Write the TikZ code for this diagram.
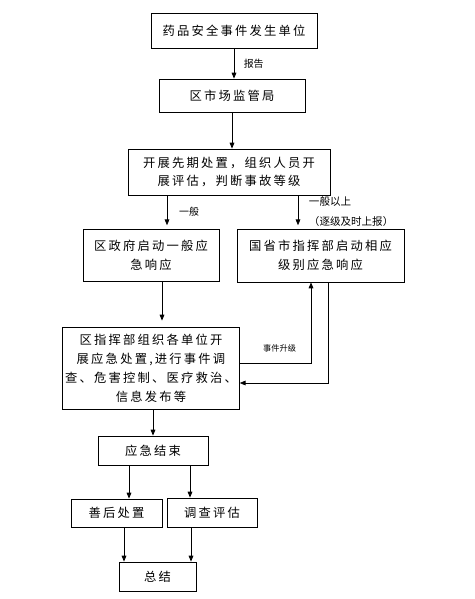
\documentclass[tikz,border=0pt]{standalone}
\usepackage{fontspec}
\usetikzlibrary{arrows.meta,positioning,calc}
\setmainfont{Noto Sans CJK SC}
\newfontfamily\boxfont[LetterSpace=18]{Noto Sans CJK SC}

\begin{document}
\begin{tikzpicture}[
    x=0.03cm, y=-0.03cm,
    fbox/.style={rectangle, draw, line width=0.7pt, align=center,
                 font=\boxfont\fontsize{10.5pt}{16.2pt}\selectfont, inner sep=2pt},
    arr/.style={-{Stealth[length=5pt, width=4pt, inset=0pt]}, line width=0.7pt},
    lbl/.style={font=\fontsize{8.5pt}{10pt}\selectfont, inner sep=0pt}
  ]

  \useasboundingbox (0,0) rectangle (474,599);

  % ---- Boxes ----
  \node[fbox, minimum width=4.98cm, minimum height=1.05cm]
    (B1) at (234,30.5) {药品安全事件发生单位};
  \node[fbox, minimum width=4.38cm, minimum height=0.99cm]
    (B2) at (232,95.5) {区市场监管局};
  \node[fbox, minimum width=6.06cm, minimum height=1.38cm]
    (B3) at (229,172) {开展先期处置，组织人员开\\展评估，判断事故等级};
  \node[fbox, minimum width=4.08cm, minimum height=1.56cm]
    (B4) at (151,255) {区政府启动一般应\\急响应};
  \node[fbox, minimum width=5.01cm, minimum height=1.59cm]
    (B5) at (320.5,255.5) {国省市指挥部启动相应\\级别应急响应};
  \node[fbox, minimum width=5.16cm, minimum height=2.46cm]
    (B6) at (151,368) {区指挥部组织各单位开\\展应急处置,进行事件调\\查、危害控制、医疗救治、\\信息发布等};
  \node[fbox, minimum width=3.30cm, minimum height=0.87cm]
    (B7) at (153,450.5) {应急结束};
  \node[fbox, minimum width=2.73cm, minimum height=0.84cm]
    (B8) at (116.5,513) {善后处置};
  \node[fbox, minimum width=2.70cm, minimum height=0.87cm]
    (B9) at (212,512.5) {调查评估};
  \node[fbox, minimum width=2.31cm, minimum height=0.87cm]
    (B10) at (157.5,576.5) {总结};

  % ---- Arrow positions ----
  \coordinate (a1) at ($(B4.north)+(16,0)$);
  \coordinate (a2) at ($(B5.north)+(-22.5,0)$);
  \coordinate (a3) at ($(B4.south)+(11,0)$);
  \coordinate (up) at ($(B5.south)+(-9.5,0)$);
  \coordinate (dn) at ($(B5.south)+(7.5,0)$);
  \coordinate (a4) at ($(B8.north)+(12.5,0)$);
  \coordinate (a5) at ($(B9.north)+(-22,0)$);
  \coordinate (a6) at ($(B10.north)+(-33.5,0)$);
  \coordinate (a7) at ($(B10.north)+(33.5,0)$);

  % ---- Connectors ----
  \draw[arr] (B1.south |- B1.south) -- (B1.south |- B2.north)
    node[lbl, midway, right=8pt] {报告};
  \draw[arr] (B2.south) -- (B2.south |- B3.north);

  \draw[arr, shorten >=0.1cm] (B3.south -| a1) -- (a1)
    node[lbl, midway, right=10pt] {一般};
  \draw[arr, shorten >=0.1cm] (B3.south -| a2) -- (a2)
    node[lbl, midway, right=9pt, align=left,
         font=\fontsize{9pt}{17pt}\selectfont] {一般以上\\（逐级及时上报）};

  \draw[arr, shorten >=0.18cm] (a3) -- (B6.north -| a3);

  % escalation and return
  \draw[arr] ([yshift=0.15cm]B6.east) -| (up)
    node[lbl, pos=0.28, above=9pt, font=\fontsize{7pt}{8pt}\selectfont] {事件升级};
  \draw[arr] (dn) |- ([yshift=-0.45cm]B6.east);

  \draw[arr] (B6.south -| B7.north) -- (B7.north);
  \draw[arr] (B7.south -| a4) -- (a4);
  \draw[arr] (B7.south -| a5) -- (a5);
  \draw[arr] (B8.south -| a6) -- (a6);
  \draw[arr] (B9.south -| a7) -- (a7);

\end{tikzpicture}
\end{document}
